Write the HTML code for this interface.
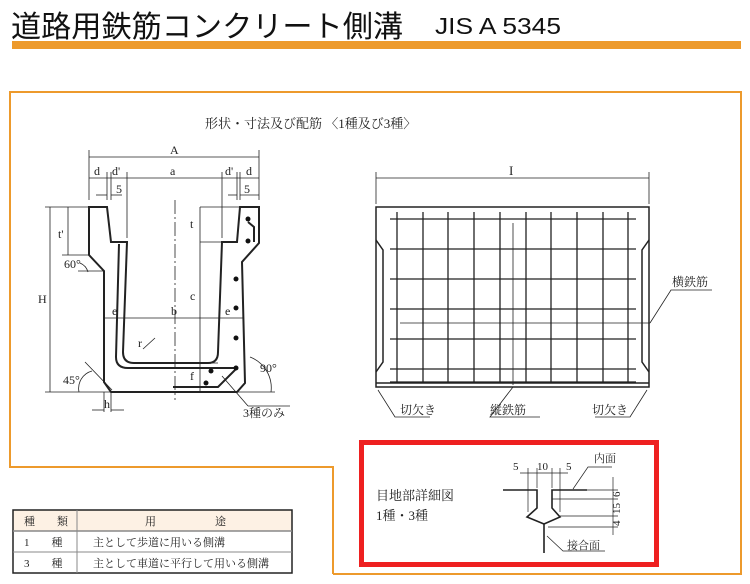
<!DOCTYPE html>
<html><head><meta charset="utf-8"><style>
html,body{margin:0;padding:0;background:#fff;}
body{width:750px;height:584px;overflow:hidden;position:relative;font-family:"Liberation Serif","Noto Serif CJK SC",serif;}
svg{position:absolute;left:0;top:0;}
.t{font-family:"Liberation Serif","Noto Serif CJK SC",serif;fill:#222;}
</style></head><body>
<svg width="750" height="584" viewBox="0 0 750 584" xmlns="http://www.w3.org/2000/svg">
<text x="11" y="37" font-family="'Liberation Sans','Noto Sans CJK JP',sans-serif" font-size="30" fill="#111" textLength="392" lengthAdjust="spacingAndGlyphs">道路用鉄筋コンクリート側溝</text>
<text x="435" y="34" font-family="'Liberation Sans',sans-serif" font-size="23" fill="#111" textLength="126" lengthAdjust="spacingAndGlyphs">JIS A 5345</text>
<rect x="12" y="41" width="729" height="8" fill="#ed9a2c"/>
<polyline points="333,574 333,467 10,467 10,92 741,92 741,574 333,574" fill="none" stroke="#ed9a2c" stroke-width="2"/>
<rect x="361.5" y="442.5" width="295" height="122" fill="none" stroke="#ee2020" stroke-width="5"/>

<text class="t" x="205" y="128" font-size="13">形状・寸法及び配筋 〈1種及び3種〉</text>

<g stroke="#222" fill="none" stroke-width="0.8">
<line x1="89" y1="157" x2="259" y2="157"/><line x1="89" y1="150" x2="89" y2="200"/><line x1="259" y1="150" x2="259" y2="200"/>
<line x1="89" y1="178" x2="259" y2="178"/>
<line x1="107" y1="172" x2="107" y2="200"/><line x1="111" y1="172" x2="111" y2="200"/><line x1="127" y1="172" x2="127" y2="238"/>
<line x1="222" y1="172" x2="222" y2="238"/><line x1="237" y1="172" x2="237" y2="200"/><line x1="240" y1="172" x2="240" y2="200"/>
<line x1="96" y1="195" x2="107" y2="195"/><line x1="111" y1="195" x2="122" y2="195"/>
<line x1="228" y1="195" x2="237" y2="195"/><line x1="240" y1="195" x2="259" y2="195"/>
<line x1="175" y1="200" x2="175" y2="400" stroke-dasharray="14,3,2,3"/>
<line x1="45" y1="207" x2="89" y2="207"/><line x1="50" y1="207" x2="50" y2="392"/><line x1="45" y1="392" x2="275" y2="392"/>
<line x1="68" y1="207" x2="68" y2="255"/><line x1="62" y1="255" x2="89" y2="255"/>
<line x1="78" y1="271" x2="104" y2="271"/>
<line x1="200" y1="207" x2="259" y2="207"/><line x1="200" y1="242" x2="222" y2="242"/><line x1="200" y1="207" x2="200" y2="392"/>
<line x1="185" y1="363" x2="218" y2="363"/>
<line x1="104" y1="318" x2="243" y2="318"/>
<line x1="104" y1="392" x2="104" y2="412"/><line x1="111" y1="392" x2="111" y2="412"/>
<line x1="92" y1="410" x2="104" y2="410"/><line x1="111" y1="410" x2="124" y2="410"/>
<line x1="85" y1="362" x2="112" y2="390"/><path d="M79,392 A18,18 0 0 1 92,371"/>
<path d="M80,263 A14,14 0 0 1 88,272"/>
<path d="M250,357 A33,33 0 0 1 271,392"/>
<line x1="143" y1="349" x2="155" y2="338"/>
<line x1="222" y1="376" x2="248" y2="406"/><line x1="248" y1="406" x2="290" y2="406"/>
</g>
<g stroke="#222" fill="none" stroke-width="2">
<path d="M89,207 L107,207 L111,242 L127,242 L123,352 Q123,363 134,363 L208,363 Q218,363 218,352 L222,242 L237,242 L240,207 L259,207 L259,243 L242,262 L245,383 L237,392 L111,392 L104,382 L104,271 L89,255 Z"/>
<path d="M119,244 L116,357 Q116,368 128,368 L236,368"/>
<polyline points="173,387 218,387 237,368"/>
<path d="M248,222 L254,227 L254,242"/>
</g>
<g fill="#111">
<circle cx="248" cy="219" r="2.5"/><circle cx="248" cy="241" r="2.5"/><circle cx="236" cy="279" r="2.5"/><circle cx="236" cy="308" r="2.5"/><circle cx="236" cy="338" r="2.5"/><circle cx="236" cy="368" r="2.5"/><circle cx="211" cy="371" r="2.5"/><circle cx="206" cy="383" r="2.5"/>
</g>
<g class="t" font-size="12">
<text x="170" y="154">A</text><text x="94" y="175">d</text><text x="112" y="175">d'</text><text x="170" y="175">a</text><text x="225" y="175">d'</text><text x="246" y="175">d</text>
<text x="116" y="193">5</text><text x="244" y="193">5</text>
<text x="112" y="315">e</text><text x="171" y="315">b</text><text x="225" y="315">e</text>
<text x="190" y="228">t</text><text x="190" y="300">c</text><text x="190" y="380">f</text><text x="138" y="347">r</text>
<text x="38" y="303">H</text><text x="58" y="238">t'</text>
<text x="64" y="268">60°</text><text x="63" y="384">45°</text><text x="260" y="372">90°</text><text x="104" y="408">h</text>
<text x="243" y="417">3種のみ</text>
</g>

<g stroke="#222" fill="none" stroke-width="0.8">
<line x1="376" y1="178" x2="649" y2="178"/><line x1="376" y1="172" x2="376" y2="204"/><line x1="649" y1="172" x2="649" y2="204"/>
<line x1="513" y1="223" x2="513" y2="385"/><line x1="400" y1="323" x2="650" y2="323"/>
<polyline points="650,323 671,290 712,290"/>
<polyline points="378,390 395,417 430,417"/><polyline points="513,387 490,417 540,417"/><polyline points="647,390 630,417 595,417"/>
</g>
<g stroke="#222" fill="none" stroke-width="1.5">
<rect x="376" y="207" width="273" height="180"/>
<line x1="376" y1="383" x2="649" y2="383"/>
<polyline points="376,240 383,250 383,362 376,372"/><polyline points="649,240 642,250 642,362 649,372"/>
<g stroke-width="1.3">
<line x1="397" y1="212" x2="397" y2="382"/><line x1="423" y1="212" x2="423" y2="382"/><line x1="448" y1="212" x2="448" y2="382"/><line x1="474" y1="212" x2="474" y2="382"/><line x1="500" y1="212" x2="500" y2="382"/><line x1="526" y1="212" x2="526" y2="382"/><line x1="551" y1="212" x2="551" y2="382"/><line x1="577" y1="212" x2="577" y2="382"/><line x1="603" y1="212" x2="603" y2="382"/><line x1="628" y1="212" x2="628" y2="382"/>
<line x1="390" y1="219" x2="636" y2="219"/><line x1="390" y1="249" x2="636" y2="249"/><line x1="390" y1="279" x2="636" y2="279"/><line x1="390" y1="309" x2="636" y2="309"/><line x1="390" y1="339" x2="636" y2="339"/><line x1="390" y1="369" x2="636" y2="369"/><line x1="390" y1="382" x2="636" y2="382"/>
</g>
</g>
<g class="t" font-size="12">
<text x="509" y="175" font-size="13">I</text>
<text x="672" y="286">横鉄筋</text>
<text x="400" y="414">切欠き</text><text x="490" y="414">縦鉄筋</text><text x="592" y="414">切欠き</text>
</g>

<g class="t" font-size="13"><text x="376" y="500">目地部詳細図</text><text x="376" y="520">1種・3種</text></g>
<g stroke="#222" fill="none" stroke-width="1.6">
<polyline points="503,490 537,490 537,508 527,517 544,524 560,517 552,508 552,490 587,490"/>
<line x1="544" y1="524" x2="544" y2="553"/>
</g>
<g stroke="#222" fill="none" stroke-width="0.7">
<line x1="528" y1="468" x2="528" y2="512"/><line x1="537" y1="468" x2="537" y2="488"/><line x1="552" y1="468" x2="552" y2="488"/><line x1="560" y1="468" x2="560" y2="512"/>
<line x1="520" y1="473" x2="568" y2="473"/>
<line x1="552" y1="499" x2="618" y2="499"/><line x1="560" y1="516" x2="618" y2="516"/><line x1="548" y1="527" x2="618" y2="527"/><line x1="587" y1="490" x2="618" y2="490"/>
<line x1="613" y1="477" x2="613" y2="535"/>
<polyline points="573,489 588,467 612,467"/>
<polyline points="547,536 563,551 605,551"/>
</g>
<g class="t" font-size="11">
<text x="513" y="470">5</text><text x="537" y="470">10</text><text x="566" y="470">5</text>
<text x="594" y="462">内面</text><text x="567" y="549">接合面</text>
<text x="620" y="497" transform="rotate(-90 620 497)">6</text>
<text x="620" y="514" transform="rotate(-90 620 514)">15</text>
<text x="620" y="526" transform="rotate(-90 620 526)">4</text>
</g>

<rect x="13" y="510" width="279" height="21" fill="#fdf1e4"/>
<g stroke="#222" fill="none">
<rect x="13" y="510" width="279" height="63" stroke-width="1.5"/>
<line x1="13" y1="531" x2="292" y2="531" stroke="#888" stroke-width="1.5"/><line x1="13" y1="552" x2="292" y2="552" stroke="#888"/>
<line x1="77" y1="510" x2="77" y2="573" stroke="#888"/>
</g>
<g class="t" font-size="11">
<text x="24" y="525">種　　類</text><text x="145" y="525">用</text><text x="215" y="525">途</text>
<text x="24" y="546">1　　種</text><text x="93" y="546">主として歩道に用いる側溝</text>
<text x="24" y="567">3　　種</text><text x="93" y="567">主として車道に平行して用いる側溝</text>
</g>
</svg>
</body></html>
